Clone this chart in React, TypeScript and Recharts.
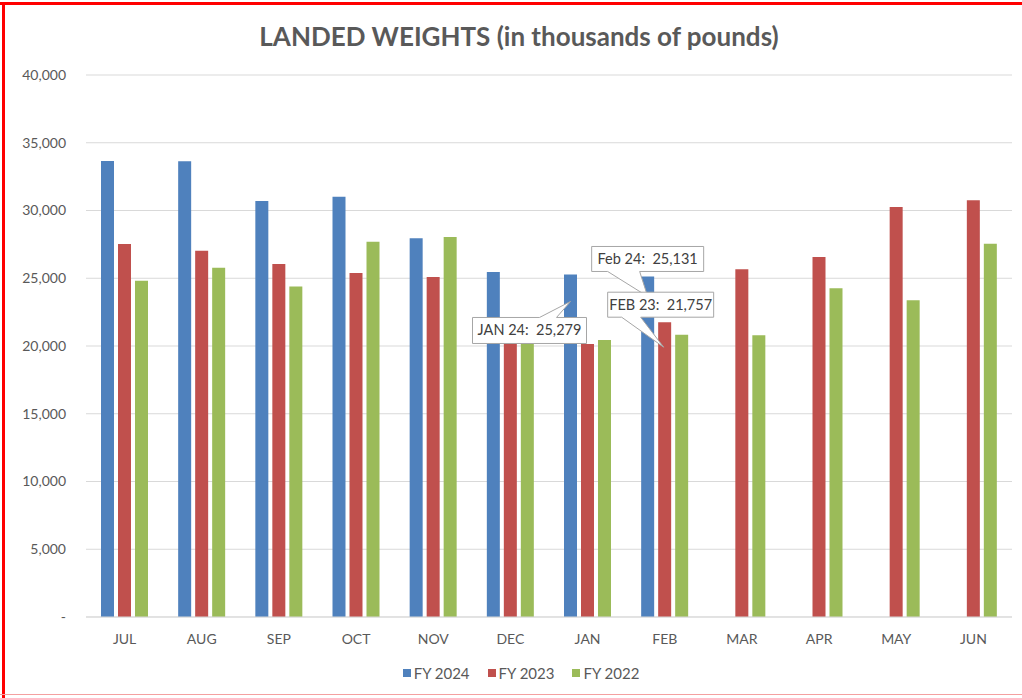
import React from 'react'
import { BarChart, Bar, XAxis, YAxis, CartesianGrid, LabelList } from 'recharts'

const months = ['JUL', 'AUG', 'SEP', 'OCT', 'NOV', 'DEC', 'JAN', 'FEB', 'MAR', 'APR', 'MAY', 'JUN']
const fy2024 = [33650, 33630, 30700, 31020, 27950, 25460, 25279, 25131, null, null, null, null]
const fy2023 = [27530, 27030, 26050, 25390, 25090, 20300, 20150, 21757, 25660, 26570, 30260, 30750]
const fy2022 = [24820, 25780, 24400, 27700, 28040, 20450, 20450, 20830, 20790, 24260, 23370, 27550]
const yTicks = [0, 5000, 10000, 15000, 20000, 25000, 30000, 35000, 40000]

// callout names per series, keyed by month
const calloutsFY24: Record<string, string> = { JAN: 'JAN 24', FEB: 'Feb 24' }
const calloutsFY23: Record<string, string> = { FEB: 'FEB 23' }

const FONT = 'Lato, "Open Sans", sans-serif'
const TEXT = '#595959'

const chartData = months.map((m, i) => ({
  month: m,
  fy2024: fy2024[i],
  fy2023: fy2023[i],
  fy2022: fy2022[i],
}))

const fmt = (v: number) => (v === 0 ? '-' : v.toLocaleString('en-US'))

// box with a pointer; side = where the pointer leaves the box
function Callout({ bx, by, bw, bh, tipX, tipY, baseL, baseR, side, text }: any) {
  const x1 = bx + bw
  const y1 = by + bh
  const d =
    side === 'top'
      ? `M${bx},${by} H${baseL} L${tipX},${tipY} L${baseR},${by} H${x1} V${y1} H${bx} Z`
      : `M${bx},${by} H${x1} V${y1} H${baseR} L${tipX},${tipY} L${baseL},${y1} H${bx} Z`
  return (
    <g>
      <path d={d} fill="#fff" stroke="#a6a6a6" strokeWidth={1} />
      <text
        x={bx + bw / 2}
        y={by + bh / 2 + 5}
        textAnchor="middle"
        fontFamily={FONT}
        fontSize={14.5}
        fill="#404040"
        style={{ whiteSpace: 'pre' }}
      >
        {text}
      </text>
    </g>
  )
}

const fy24Label = (props: any) => {
  const { x, y, width, index, value } = props
  const name = calloutsFY24[months[index]]
  if (!name) return null
  const cx = x + width / 2
  const text = `${name}:  ${fmt(value)}`
  if (index === 6) {
    return (
      <Callout bx={cx - 98} by={y + 43} bw={114} bh={26} tipX={cx} tipY={y + 27}
        baseL={cx - 31} baseR={cx - 14} side="top" text={text} />
    )
  }
  return (
    <Callout bx={cx - 56} by={y - 30} bw={112} bh={25} tipX={cx} tipY={y + 20}
      baseL={cx - 40} baseR={cx - 8} side="bottom" text={text} />
  )
}

const fy23Label = (props: any) => {
  const { x, y, width, index, value } = props
  const name = calloutsFY23[months[index]]
  if (!name) return null
  const cx = x + width / 2
  return (
    <Callout bx={cx - 57} by={y - 30} bw={106} bh={25} tipX={cx - 1} tipY={y + 25}
      baseL={cx - 43} baseR={cx - 24} side="bottom" text={`${name}:  ${fmt(value)}`} />
  )
}

const legendItems = [
  { label: 'FY 2024', color: '#4f81bd' },
  { label: 'FY 2023', color: '#c0504d' },
  { label: 'FY 2022', color: '#9bbb59' },
]

export default function App() {
  return (
    <div style={{ position: 'fixed', left: 0, top: 0, width: 1022, height: 698, background: '#fff', overflow: 'hidden' }}>
      <div style={{ position: 'absolute', left: 0, top: 20, width: 1038, textAlign: 'center', fontFamily: FONT, fontWeight: 700, fontSize: 26, color: TEXT }}>
        LANDED WEIGHTS (in thousands of pounds)
      </div>
      <BarChart
        width={1022}
        height={698}
        data={chartData}
        margin={{ top: 75, right: 10, bottom: 47, left: 0 }}
        barSize={13}
        barGap={4}
        style={{ position: 'absolute', left: 0, top: 0 }}
      >
        <CartesianGrid vertical={false} stroke="#d9d9d9" />
        <XAxis
          dataKey="month"
          axisLine={{ stroke: '#d9d9d9' }}
          tickLine={false}
          tickMargin={11}
          height={34}
          tick={{ fill: TEXT, fontSize: 14, fontFamily: FONT }}
        />
        <YAxis
          width={86}
          domain={[0, 40000]}
          ticks={yTicks}
          axisLine={false}
          tickLine={false}
          tickSize={0}
          tickMargin={20}
          tickFormatter={fmt}
          tick={{ fill: TEXT, fontSize: 14, fontFamily: FONT }}
        />
        <Bar dataKey="fy2024" name="FY 2024" fill="#4f81bd" isAnimationActive={false}>
          <LabelList dataKey="fy2024" content={fy24Label} />
        </Bar>
        <Bar dataKey="fy2023" name="FY 2023" fill="#c0504d" isAnimationActive={false}>
          <LabelList dataKey="fy2023" content={fy23Label} />
        </Bar>
        <Bar dataKey="fy2022" name="FY 2022" fill="#9bbb59" isAnimationActive={false} />
      </BarChart>
      <div style={{ position: 'absolute', left: 0, top: 664, width: 1042, display: 'flex', justifyContent: 'center', fontFamily: FONT, fontSize: 15, color: TEXT }}>
        {legendItems.map((it) => (
          <div key={it.label} style={{ display: 'flex', alignItems: 'center', margin: '0 9px' }}>
            <span style={{ width: 8, height: 8, background: it.color, marginRight: 3, display: 'inline-block' }} />
            {it.label}
          </div>
        ))}
      </div>
      <div style={{ position: 'absolute', left: 0, top: 2, width: 1022, height: 3, background: '#ff0000' }} />
      <div style={{ position: 'absolute', left: 2, top: 2, width: 3, height: 696, background: '#ff0000' }} />
      <div style={{ position: 'absolute', left: 0, top: 694, width: 1022, height: 1, background: '#f4a0a0' }} />
    </div>
  )
}
